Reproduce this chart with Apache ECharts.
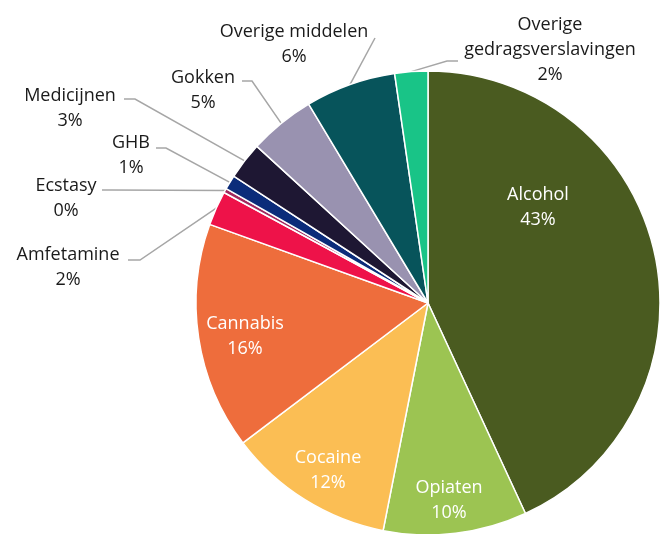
<!DOCTYPE html>
<html lang="nl">
<head>
    <meta charset="UTF-8">
    <title>Verslavingen</title>
    <style>
        html, body { margin: 0; padding: 0; background: #fff; }
    </style>
</head>
<body>
<div class="main" style="width: 660px;height: 534px;"></div>
<script src="https://cdn.jsdelivr.net/npm/echarts@6/dist/echarts.min.js"></script>
<script>
    // data (percent)
    var categories = ['Alcohol', 'Opiaten', 'Cocaine', 'Cannabis', 'Amfetamine', 'Ecstasy',
        'GHB', 'Medicijnen', 'Gokken', 'Overige middelen', 'Overige gedragsverslavingen'];
    var values = [43.1, 10.0, 11.6, 15.8, 2.4, 0.3, 1.0, 2.6, 4.6, 6.3, 2.3];
    var colors = ['#4A5B20', '#9CC452', '#FBBE54', '#EE6D3C', '#EE1249', '#A2285E',
        '#0B2C7A', '#1E1733', '#9992B0', '#07545B', '#19C487'];
    var insideLabel = [true, true, true, true, false, false, false, false, false, false, false];

    // label placement (text centre) and leader line ends [x near slice, x near text, y]
    var labelPos = [[538, 207], [449, 500], [328, 470], [245, 336], [68, 267], [66, 198],
        [131, 155], [70, 108], [203, 90], [294, 44], [550, 50]];
    var lineEnds = [null, null, null, null, [140, 128, 260], [110, 102, 190], [166, 156, 148],
        [135, 124, 99], [252, 242, 81], [375, 375, 38], [447, 458, 61]];

    var main = document.querySelector(".main");
    var mainEcharts = echarts.init(main);

    var pieData = categories.map(function (name, i) {
        return {
            name: name,
            value: values[i],
            itemStyle: {color: colors[i]},
            label: {color: insideLabel[i] ? '#fff' : '#1a1a1a'},
            labelLine: {show: !insideLabel[i]}
        };
    });

    var option = {
        animation: false,
        series: [{
            type: 'pie',
            center: [428, 303],
            radius: 232,
            startAngle: 90,
            clockwise: true,
            avoidLabelOverlap: false,
            data: pieData,
            itemStyle: {borderColor: '#fff', borderWidth: 1.5},
            label: {
                show: true,
                position: 'outside',
                fontFamily: 'Open Sans',
                fontSize: 18,
                lineHeight: 25,
                formatter: function (p) {
                    return p.name.replace('Overige gedrags', 'Overige\ngedrags') + '\n' + Math.round(p.value) + '%';
                }
            },
            labelLine: {
                length: 10,
                length2: 10,
                lineStyle: {color: '#A6A6A6', width: 1.5}
            },
            labelLayout: function (params) {
                var i = params.dataIndex;
                var res = {
                    x: labelPos[i][0],
                    y: labelPos[i][1],
                    align: 'center',
                    verticalAlign: 'middle'
                };
                var le = lineEnds[i];
                if (le && params.labelLinePoints) {
                    res.labelLinePoints = [
                        params.labelLinePoints[0],
                        [le[0], le[2]],
                        [le[1], le[2]]
                    ];
                }
                return res;
            },
            emphasis: {disabled: true}
        }]
    };

    mainEcharts.setOption(option);

    window.onresize = mainEcharts.resize;
</script>
</body>
</html>
